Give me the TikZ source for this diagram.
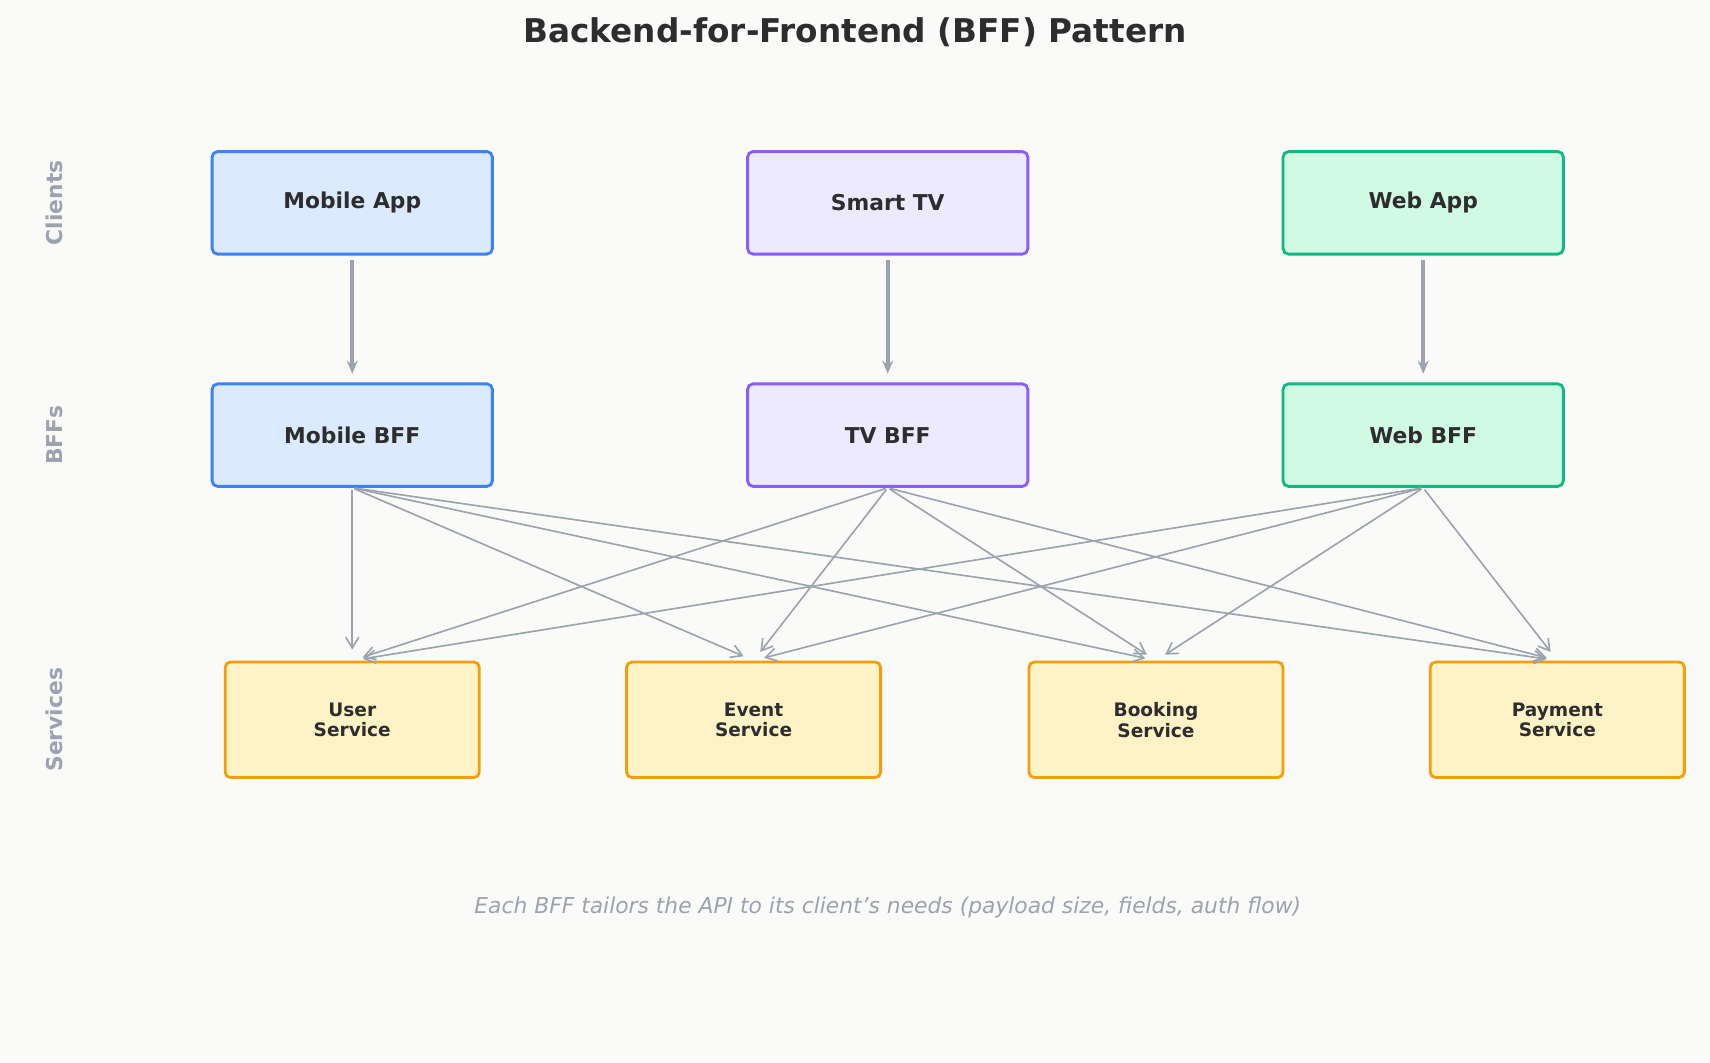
\documentclass[tikz,border=0pt]{standalone}
\usepackage{fontspec}
\setmainfont{DejaVu Sans}
\usetikzlibrary{arrows.meta}
\definecolor{bg}{HTML}{FAFAF9}
\definecolor{txt}{HTML}{2D2D2D}
\definecolor{gr}{HTML}{9CA3AF}
\definecolor{bB}{HTML}{3B82F6}\definecolor{fB}{HTML}{DBEAFE}
\definecolor{bP}{HTML}{8B5CF6}\definecolor{fP}{HTML}{EDE9FE}
\definecolor{bG}{HTML}{10B981}\definecolor{fG}{HTML}{D1FAE5}
\definecolor{bO}{HTML}{F59E0B}\definecolor{fO}{HTML}{FEF3C7}
\begin{document}
\begin{tikzpicture}[x=0.5pt,y=-0.5pt,
 box/.style={draw,rounded corners=2.5pt,line width=1.3pt,minimum width=128.5pt,minimum height=47pt,font=\fontsize{10}{12}\selectfont\bfseries,text=txt},
 svc/.style={draw=bO,fill=fO,rounded corners=2.5pt,line width=1.3pt,minimum width=116.5pt,minimum height=53pt,font=\fontsize{8.5}{9.5}\selectfont\bfseries,text=txt,align=center},
 side/.style={rotate=90,text=gr,font=\fontsize{10}{12}\selectfont\bfseries},
 thick/.style={draw=gr,line width=2pt,-{Stealth[length=6pt,width=5pt]},shorten >=4pt,shorten <=2pt},
 thin/.style={draw=gr,line width=0.75pt,-{Straight Barb[length=5pt,width=6pt]},shorten >=5pt,shorten <=1pt}]
\fill[bg] (0,0) rectangle (1568,974);
\node[text=txt,font=\fontsize{15}{18}\selectfont\bfseries] (title) at (784,30) {Backend-for-Frontend (BFF) Pattern};
\node[side] (l1) at (50,186) {Clients};
\node[side] (l2) at (50,399) {BFFs};
\node[side] (l3) at (50,660) {Services};
\node[box,draw=bB,fill=fB] (ma) at (323,186) {Mobile App};
\node[box,draw=bP,fill=fP] (tv) at (814,186) {Smart TV};
\node[box,draw=bG,fill=fG] (wa) at (1305,186) {Web App};
\node[box,draw=bB,fill=fB] (mb) at (323,399) {Mobile BFF};
\node[box,draw=bP,fill=fP] (tb) at (814,399) {TV BFF};
\node[box,draw=bG,fill=fG] (wb) at (1305,399) {Web BFF};
\node[svc] (us) at (323,660) {User\\Service};
\node[svc] (es) at (691,660) {Event\\Service};
\node[svc] (bs) at (1060,660) {Booking\\Service};
\node[svc] (ps) at (1428,660) {Payment\\Service};
\draw[thick] (ma) -- (mb);
\draw[thick] (tv) -- (tb);
\draw[thick] (wa) -- (wb);
\foreach \b in {mb,tb,wb}{\foreach \s in {us,es,bs,ps}{\draw[thin] (\b.south) -- (\s.north);}}
\node[text=gr,font=\fontsize{10}{12}\selectfont\itshape] (cap) at (814,832) {Each BFF tailors the API to its client's needs (payload size, fields, auth flow)};
\end{tikzpicture}
\end{document}
